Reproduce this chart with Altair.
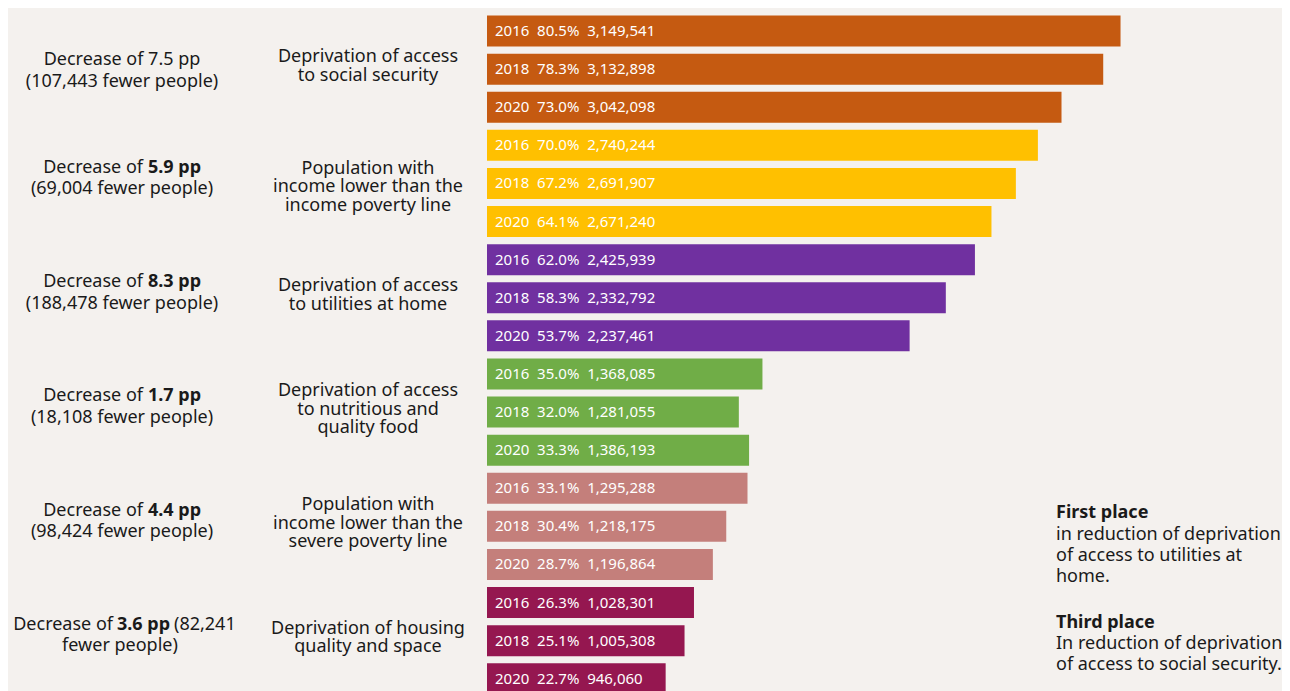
import altair as alt
import pandas as pd

# ---------------- data ----------------
categories = [
    "Deprivation of access\nto social security",
    "Population with\nincome lower than the\nincome poverty line",
    "Deprivation of access\nto utilities at home",
    "Deprivation of access\nto nutritious and\nquality food",
    "Population with\nincome lower than the\nsevere poverty line",
    "Deprivation of housing\nquality and space",
]
colors = ["#C55A11", "#FFC000", "#7030A0", "#70AD47", "#C47F7B", "#951750"]
years = ["2016", "2018", "2020"]
pct = [
    [80.5, 78.3, 73.0],
    [70.0, 67.2, 64.1],
    [62.0, 58.3, 53.7],
    [35.0, 32.0, 33.3],
    [33.1, 30.4, 28.7],
    [26.3, 25.1, 22.7],
]
people = [
    [3149541, 3132898, 3042098],
    [2740244, 2691907, 2671240],
    [2425939, 2332792, 2237461],
    [1368085, 1281055, 1386193],
    [1295288, 1218175, 1196864],
    [1028301, 1005308, 946060],
]
decrease_pp = ["7.5 pp", "5.9 pp", "8.3 pp", "1.7 pp", "4.4 pp", "3.6 pp"]
fewer_people = ["107,443", "69,004", "188,478", "18,108", "98,424", "82,241"]

notes_title = ["First place", "Third place"]
notes_body = [
    "in reduction of deprivation\nof access to utilities at\nhome.",
    "In reduction of deprivation\nof access to social security.",
]

FONT = "Noto Sans"
FS = 18
INK = "#1a1a1a"
NB = "\u00a0"

rows = []
for i in range(len(categories)):
    for j, yr in enumerate(years):
        rows.append(dict(
            row=f"{i}-{yr}", group=str(i), pct=pct[i][j],
            label=f"{yr}{NB*2}{pct[i][j]:.1f}%{NB*2}{people[i][j]:,}",
        ))
df = pd.DataFrame(rows)
order = list(df["row"])

mid = pd.DataFrame(dict(
    row=[f"{i}-2018" for i in range(len(categories))],
    cat=categories,
    pp=decrease_pp,
    line2=[f"({f} fewer people)" for f in fewer_people],
))

yscale = alt.Scale(domain=order, paddingInner=0.186, paddingOuter=0.093)
Y = alt.Y("row:N", scale=yscale, axis=None)
xscale = alt.Scale(domain=[0, 100])

bars = alt.Chart(df).mark_bar().encode(
    x=alt.X("pct:Q", scale=xscale, axis=None),
    y=Y,
    color=alt.Color("group:N", scale=alt.Scale(domain=[str(i) for i in range(6)], range=colors), legend=None),
)

bar_labels = alt.Chart(df).mark_text(
    align="left", baseline="middle", dx=8, color="white", fontSize=15, font=FONT
).encode(x=alt.datum(0), y=Y, text="label:N")

CLH = 18.5


def cat_layer(idx, dy):
    return alt.Chart(mid.iloc[idx]).mark_text(
        align="center", baseline="middle", lineBreak="\n", lineHeight=CLH,
        fontSize=FS, font=FONT, color=INK, dy=dy
    ).encode(x=alt.value(-119), y=Y, text="cat:N")


cat_a = cat_layer([0, 2, 5], -2.5 - CLH / 2)
cat_b = cat_layer([3, 4], -2.5 - CLH)
cat_c = cat_layer([1], 3.6 - CLH)

LH = 10.75


def txt(data, field, x, dy, align="center", weight="normal"):
    return alt.Chart(data).mark_text(
        align=align, baseline="middle", fontSize=FS, font=FONT, color=INK,
        fontWeight=weight, dy=dy
    ).encode(x=alt.value(x), y=Y, text=f"{field}:N")


first = mid.iloc[[0]].assign(t=lambda d: "Decrease of " + d["pp"])
DY1 = 1.9
g1a = txt(first, "t", -365, DY1 - LH)
g1b = txt(first, "line2", -365, DY1 + LH)

DY = -5
middle = mid.iloc[1:5].assign(t="Decrease of")
dec_pre = txt(middle, "t", -344, DY - LH, align="right")
dec_bold = txt(middle, "pp", -339, DY - LH, align="left", weight="bold")
dec_line2 = txt(middle, "line2", -365, DY + LH)

last = mid.iloc[[5]].assign(
    t="Decrease of", post=f"({fewer_people[5]}", l2="fewer people)"
)
last_pre = txt(last, "t", -374, DY - LH, align="right")
last_bold = txt(last, "pp", -370, DY - LH, align="left", weight="bold")
last_post = txt(last, "post", -313, DY - LH, align="left")
last_l2 = txt(last, "l2", -367, DY + LH)

ndf = pd.DataFrame(dict(title=notes_title, body=notes_body))
NX = 569


def note(i, field, y, weight="normal"):
    return alt.Chart(ndf.iloc[[i]]).mark_text(
        align="left", baseline="middle", fontSize=FS, font=FONT, fontWeight=weight,
        color=INK, lineBreak="\n", lineHeight=21
    ).encode(x=alt.value(NX), y=alt.value(y), text=f"{field}:N")


notes = [note(0, "title", 501, "bold"), note(0, "body", 523),
         note(1, "title", 611, "bold"), note(1, "body", 632)]

chart = alt.layer(
    bars, bar_labels, cat_a, cat_b, cat_c, g1a, g1b, dec_pre, dec_bold, dec_line2,
    last_pre, last_bold, last_post, last_l2, *notes,
).properties(
    width=787, height=685.8,
    autosize=alt.AutoSizeParams(type="none"),
    padding={"left": 479, "top": 4, "right": 8, "bottom": -6.8},
    background="#F4F1EE",
).configure_view(stroke=None)

chart.save("out.html", embed_options={"renderer": "svg", "actions": False})
